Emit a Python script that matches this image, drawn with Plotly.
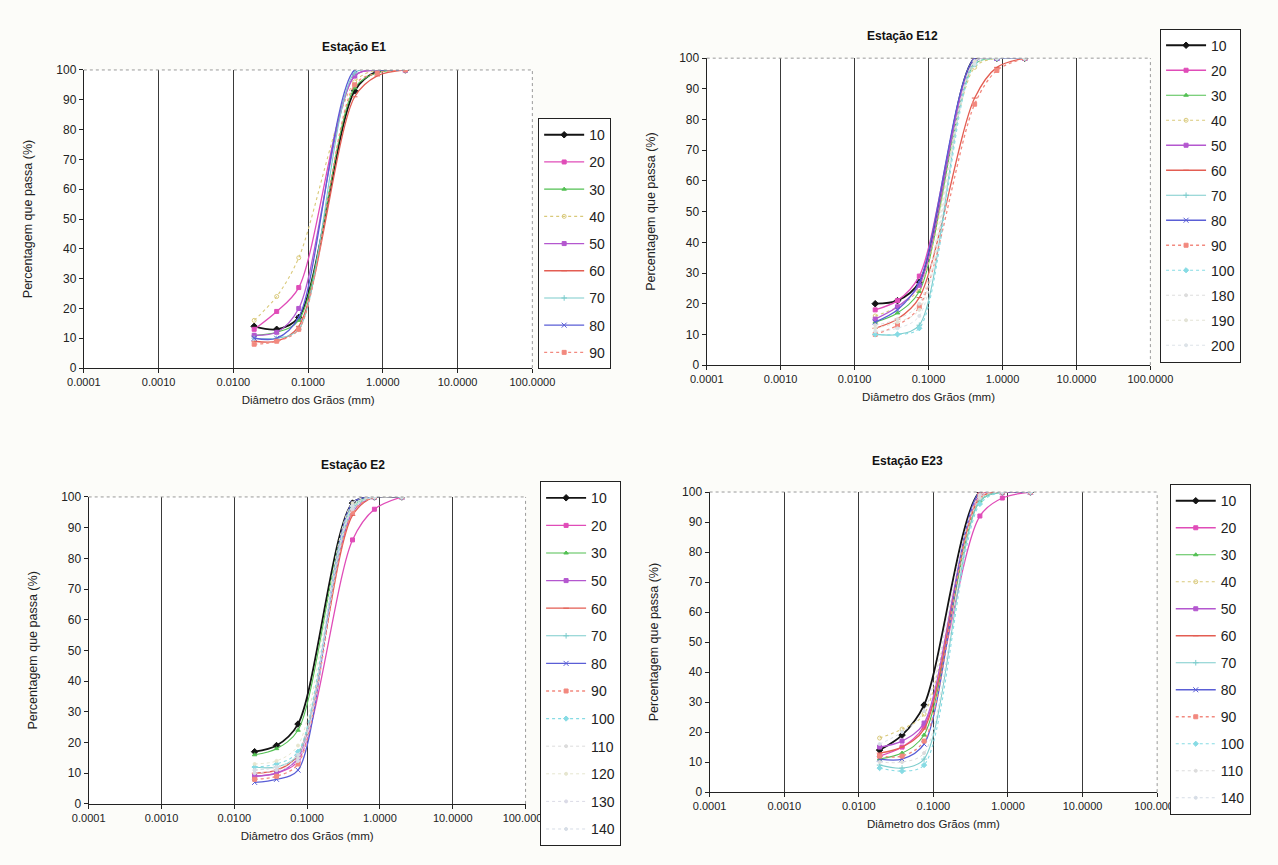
import plotly.graph_objects as go

W, H = 1278, 865

# ---------------- data ----------------
sizes = [0.019, 0.038, 0.075, 0.42, 0.84, 2.0]   # grain diameter (mm)

x_tickvals = [0.0001, 0.001, 0.01, 0.1, 1, 10, 100]
x_ticktext = ["0.0001", "0.0010", "0.0100", "0.1000", "1.0000", "10.0000", "100.0000"]
y_tickvals = [0, 10, 20, 30, 40, 50, 60, 70, 80, 90, 100]

e1_names = ["10", "20", "30", "40", "50", "60", "70", "80", "90"]
e1_values = [
    [14, 13, 17, 93, 99.5, 100],
    [13, 19, 27, 98, 100, 100],
    [11, 12, 16, 94, 99, 100],
    [16, 24, 37, 96, 100, 100],
    [11, 12, 20, 98, 100, 100],
    [9, 9, 14, 91, 98, 100],
    [10, 10, 13, 99, 100, 100],
    [10, 10, 17, 100, 100, 100],
    [8, 9, 13, 95, 99, 100],
]

e12_names = ["10", "20", "30", "40", "50", "60", "70", "80", "90", "100", "180", "190", "200"]
e12_values = [
    [20, 21, 27, 100, 100, 100],
    [18, 21, 29, 99, 100, 100],
    [14, 17, 24, 98, 100, 100],
    [16, 19, 25, 97, 100, 100],
    [15, 19, 26, 99, 100, 100],
    [12, 15, 22, 87, 97, 100],
    [10, 10, 13, 99, 100, 100],
    [14, 18, 27, 100, 100, 100],
    [10, 13, 19, 85, 96, 100],
    [10, 10, 12, 98, 100, 100],
    [13, 15, 20, 99, 100, 100],
    [12, 14, 18, 99, 100, 100],
    [11, 12, 16, 98, 100, 100],
]

e2_names = ["10", "20", "30", "50", "60", "70", "80", "90", "100", "110", "120", "130", "140"]
e2_values = [
    [17, 19, 26, 98, 100, 100],
    [9, 10, 14, 86, 96, 100],
    [16, 18, 24, 97, 100, 100],
    [9, 10, 15, 95, 100, 100],
    [10, 11, 16, 94, 100, 100],
    [12, 12, 16, 96, 100, 100],
    [7, 8, 11, 98, 100, 100],
    [8, 9, 13, 95, 100, 100],
    [12, 13, 17, 97, 100, 100],
    [11, 12, 15, 97, 100, 100],
    [13, 14, 19, 98, 100, 100],
    [10, 11, 14, 96, 100, 100],
    [11, 12, 16, 97, 100, 100],
]

e23_names = ["10", "20", "30", "40", "50", "60", "70", "80", "90", "100", "110", "140"]
e23_values = [
    [14, 19, 29, 100, 100, 100],
    [12, 15, 22, 92, 98, 100],
    [11, 13, 19, 97, 100, 100],
    [18, 21, 26, 98, 100, 100],
    [15, 17, 23, 99, 100, 100],
    [13, 15, 21, 98, 100, 100],
    [9, 8, 11, 97, 100, 100],
    [11, 11, 16, 100, 100, 100],
    [12, 12, 17, 99, 100, 100],
    [8, 7, 9, 96, 100, 100],
    [10, 10, 13, 98, 100, 100],
    [16, 20, 27, 99, 100, 100],
]

# ---------------- styles ----------------
STY = {
    "10": ("#141414", "diamond", "solid", 1.8, 5),
    "20": ("#e04cb8", "square", "solid", 1.3, 4),
    "30": ("#52c052", "triangle-up", "solid", 1.1, 4),
    "40": ("#d9c97a", "circle-open", "dot", 1.1, 4),
    "50": ("#b457cf", "square", "solid", 1.3, 4),
    "60": ("#e35d52", "line-ew", "solid", 1.3, 4),
    "70": ("#7ccccc", "cross-thin", "solid", 1.1, 4),
    "80": ("#5a5ed6", "x-thin", "solid", 1.3, 5),
    "90": ("#f2897f", "square", "dot", 1.3, 4),
    "100": ("#86dbe4", "diamond", "dot", 1.1, 4),
    "110": ("#dcdcdc", "circle", "dot", 1.0, 3),
    "120": ("#e6e6cf", "circle", "dot", 1.0, 3),
    "130": ("#dadae6", "circle", "dot", 1.0, 3),
    "140": ("#d6dde6", "circle", "dot", 1.0, 3),
    "180": ("#dddddd", "circle", "dot", 1.0, 3),
    "190": ("#e3e3d6", "circle", "dot", 1.0, 3),
    "200": ("#dde3e8", "circle", "dot", 1.0, 3),
}

FONT = "Arial, Liberation Sans, sans-serif"

# panel geometry in pixels: (x0, x1, ytop, ybottom)
panels = [
    dict(names=e1_names, vals=e1_values, title="Estação E1",
         box=(69, 532, 64, 367), leg=(538, 113), gap=6.0),
    dict(names=e12_names, vals=e12_values, title="Estação E12",
         box=(712, 1170, 52, 364), leg=(1180, 22), gap=3.8),
    dict(names=e2_names, vals=e2_values, title="Estação E2",
         box=(74, 525, 498, 810), leg=(540, 482), gap=6.4),
    dict(names=e23_names, vals=e23_values, title="Estação E23",
         box=(715, 1177, 493, 798), leg=(1190, 485), gap=5.8),
]

fig = go.Figure()
layout = dict(
    width=W, height=H,
    margin=dict(l=0, r=0, t=0, b=0),
    paper_bgcolor="#fcfcf9",
    plot_bgcolor="#ffffff",
    font=dict(family=FONT, color="#222222", size=12),
    showlegend=True,
)
annotations = []
shapes = []

for i, p in enumerate(panels):
    k = "" if i == 0 else str(i + 1)
    xa, ya = "x" + k, "y" + k
    lg = "legend" + k
    x0, x1, yt, yb = p["box"]
    for j, (nm, v) in enumerate(zip(p["names"], p["vals"])):
        col, sym, dash, lw, ms = STY[nm]
        fig.add_trace(go.Scatter(
            x=sizes, y=v, name=nm, mode="lines+markers",
            line=dict(color=col, width=lw, dash=dash, shape="spline", smoothing=0.9),
            marker=dict(symbol=sym, size=ms, color=col, line=dict(color=col, width=1)),
            xaxis=xa, yaxis=ya, legend=lg, legendgroup=f"{i}-{nm}",
        ))
    layout["xaxis" + k] = dict(
        type="log", range=[-4, 2], domain=[x0 / W, x1 / W], anchor=ya,
        tickvals=x_tickvals, ticktext=x_ticktext, tickfont=dict(size=11, color="#222"),
        showgrid=True, gridcolor="#3a3a3a", gridwidth=1,
        showline=True, linecolor="#222", linewidth=1.2, ticks="outside", ticklen=4,
        tickcolor="#222", zeroline=False, mirror=False,
        title=dict(text="Diâmetro dos Grãos (mm)", font=dict(size=11.5, color="#222"), standoff=8),
    )
    layout["yaxis" + k] = dict(
        range=[0, 100], domain=[1 - yb / H, 1 - yt / H], anchor=xa,
        tickvals=y_tickvals, tickfont=dict(size=12, color="#222"),
        showgrid=False, showline=True, linecolor="#222", linewidth=1.2,
        ticks="outside", ticklen=4, tickcolor="#222", zeroline=False,
        title=dict(text="Percentagem que passa (%)", font=dict(size=12.5, color="#222"), standoff=20),
    )
    layout[lg] = dict(
        x=p["leg"][0] / W, y=1 - p["leg"][1] / H, xanchor="left", yanchor="top",
        bgcolor="#ffffff", bordercolor="#222", borderwidth=1,
        font=dict(size=14, color="#222", family=FONT),
        tracegroupgap=p["gap"], itemwidth=40,
    )
    decade = (x1 - x0) / 6.0
    title_x = x0 + 3 * decade + 12
    annotations.append(dict(
        text="<b>" + p["title"] + "</b>", x=title_x / W, y=1 - (yt - 32) / H,
        xref="paper", yref="paper", showarrow=False, font=dict(size=12, color="#111"),
    ))
    # dotted top and right borders
    shapes.append(dict(type="line", xref=xa + " domain", yref=ya + " domain",
                       x0=0, x1=1, y0=1, y1=1, line=dict(color="#9a9a9a", width=1, dash="dot")))
    shapes.append(dict(type="line", xref=xa + " domain", yref=ya + " domain",
                       x0=1, x1=1, y0=0, y1=1, line=dict(color="#9a9a9a", width=1, dash="dot")))

layout["annotations"] = annotations
layout["shapes"] = shapes
fig.update_layout(**layout)
fig.write_html("out.html")
